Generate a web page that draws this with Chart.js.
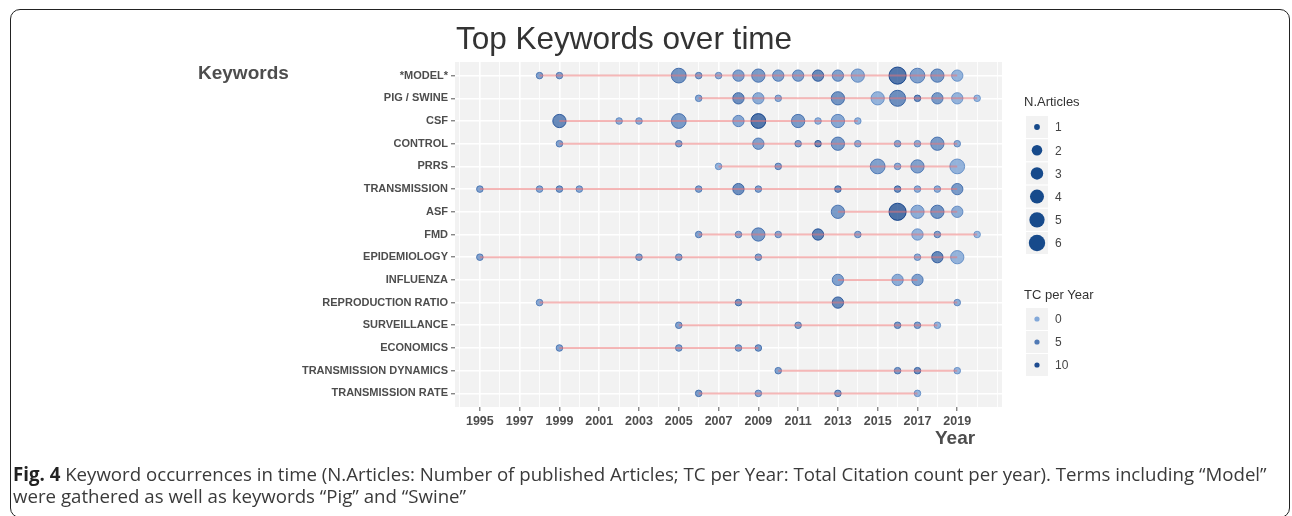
<!DOCTYPE html>
<html>
<head>
<meta charset="utf-8">
<script src="https://cdn.jsdelivr.net/npm/chart.js@4.4.0/dist/chart.umd.min.js"></script>
<style>
html,body{margin:0;padding:0;background:#fff;}
body{width:1292px;height:516px;position:relative;overflow:hidden;}
#frame{position:absolute;left:10px;top:9px;width:1280px;height:509px;border:1.5px solid #222;border-radius:10px;box-sizing:border-box;}
#wrap{position:absolute;left:0;top:0;width:1292px;height:516px;}
.cap{position:absolute;left:13px;font-family:"Open Sans",sans-serif;font-size:16px;line-height:22px;color:#3a3a3a;white-space:nowrap;}
.cap b{color:#222;}
</style>
</head>
<body>
<div id="frame"></div>
<div id="wrap"><canvas id="chart" width="1292" height="516"></canvas></div>
<div class="cap" id="cap1" style="top:463px;"><b>Fig. 4</b> Keyword occurrences in time (N.Articles: Number of published Articles; TC per Year: Total Citation count per year). Terms including “Model”</div>
<div class="cap" id="cap2" style="top:485px;">were gathered as well as keywords “Pig” and “Swine”</div>
<script>
var chartTitle = "Top Keywords over time";
var keywords = ["*MODEL*","PIG / SWINE","CSF","CONTROL","PRRS","TRANSMISSION","ASF","FMD",
                "EPIDEMIOLOGY","INFLUENZA","REPRODUCTION RATIO","SURVEILLANCE","ECONOMICS",
                "TRANSMISSION DYNAMICS","TRANSMISSION RATE"];
// publication years per keyword
var years = [
 [1998,1999,2005,2006,2007,2008,2009,2010,2011,2012,2013,2014,2016,2017,2018,2019],
 [2006,2008,2009,2010,2013,2015,2016,2017,2018,2019,2020],
 [1999,2002,2003,2005,2008,2009,2011,2012,2013,2014],
 [1999,2005,2009,2011,2012,2013,2014,2016,2017,2018,2019],
 [2007,2010,2015,2016,2017,2019],
 [1995,1998,1999,2000,2006,2008,2009,2013,2016,2017,2018,2019],
 [2013,2016,2017,2018,2019],
 [2006,2008,2009,2010,2012,2014,2017,2018,2020],
 [1995,2003,2005,2009,2017,2018,2019],
 [2013,2016,2017],
 [1998,2008,2013,2019],
 [2005,2011,2016,2017,2018],
 [1999,2005,2008,2009],
 [2010,2016,2017,2019],
 [2006,2009,2013,2017]
];
// N.Articles per point
var nArticles = [
 [1,1,4,1,1,2,3,2,2,2,2,3,6,4,3,2],
 [1,2,2,1,3,3,5,1,2,2,1],
 [3,1,1,4,2,4,3,1,3,1],
 [1,1,2,1,1,3,1,1,1,3,1],
 [1,1,4,1,3,4],
 [1,1,1,1,1,2,1,1,1,1,1,2],
 [3,6,3,3,2],
 [1,1,3,1,2,1,2,1,1],
 [1,1,1,1,1,2,3],
 [2,2,2],
 [1,1,2,1],
 [1,1,1,1,1],
 [1,1,1,1],
 [1,1,1,1],
 [1,1,1,1]
];
// TC per Year per point
var tcPerYear = [
 [4,4,6,4,2,4,5,4,4,8,4,2,11,4,5,1],
 [3,7,2,2,6,1,7,7,5,1,0],
 [8,2,2,5,3,11,5,1,3,1],
 [4,4,4,4,8,5,2,3,2,5,2],
 [1,4,4,2,4,1],
 [4,3,5,3,4,7,4,7,7,2,2,5],
 [5,12,2,6,2],
 [4,3,5,3,9,3,1,4,0],
 [4,4,4,4,2,8,1],
 [4,2,4],
 [3,6,8,2],
 [4,4,5,4,1],
 [4,4,4,5],
 [4,5,7,1],
 [5,3,5,1]
];
var xTickLabels = [1995,1997,1999,2001,2003,2005,2007,2009,2011,2013,2015,2017,2019];
var gridYears = [1994,1995,1996,1997,1998,1999,2000,2001,2002,2003,2004,2005,2006,2007,2008,
                 2009,2010,2011,2012,2013,2014,2015,2016,2017,2018,2019,2020,2021];
var sizeLegend = [1,2,3,4,5,6];
var tcLegend = [0,5,10];

var FONT = '"Liberation Sans", Arial, sans-serif';

function radius(n){
	var size = 1 + 5*Math.sqrt((n-1)/5);
	return 3.3 + 1.06*(size-1);
}
function tcColor(tc, a){
	var t = Math.min(tc/13,1);
	var lo=[118,160,214], hi=[4,54,130];
	var c = lo.map(function(v,i){ return Math.round(v+(hi[i]-v)*t); });
	return 'rgba('+c[0]+','+c[1]+','+c[2]+','+a+')';
}

var datasets=[];
for(var i=0;i<keywords.length;i++){
	var yr=years[i];
	datasets.push({
		type:'line',
		data:[{x:yr[0],y:i},{x:yr[yr.length-1],y:i}],
		borderColor:'rgba(236,112,112,0.5)',
		borderWidth:2,
		pointRadius:0,
		order:0
	});
	var pts=[], bg=[], bd=[];
	for(var j=0;j<yr.length;j++){
		pts.push({x:yr[j], y:i, r:radius(nArticles[i][j])});
		bg.push(tcColor(tcPerYear[i][j],0.72));
		bd.push(tcColor(tcPerYear[i][j]+2,0.85));
	}
	datasets.push({
		type:'bubble',
		data:pts,
		backgroundColor:bg,
		borderColor:bd,
		borderWidth:1,
		order:1
	});
}

var panelBg = {
	id:'panelBg',
	beforeDraw:function(chart){
		var a=chart.chartArea, c=chart.ctx;
		c.save();
		c.fillStyle='#f2f2f2';
		c.fillRect(a.left,a.top,a.right-a.left,a.bottom-a.top);
		c.restore();
	}
};

var texts = {
	id:'texts',
	afterDraw:function(chart){
		var c=chart.ctx;
		c.save();
		c.textBaseline='alphabetic';
		c.textAlign='left';
		c.fillStyle='#333';
		c.font='31.5px '+FONT;
		c.fillText(chartTitle,456,49);
		c.fillStyle='#4d4d4d';
		c.font='bold 19px '+FONT;
		c.fillText('Keywords',198,79);
		c.fillText('Year',935,444);

		// N.Articles legend
		c.fillStyle='#333';
		c.font='13px '+FONT;
		c.fillText('N.Articles',1024,106);
		var y0=127, step=23.2;
		for(var k=0;k<sizeLegend.length;k++){
			var cy=y0+k*step;
			c.fillStyle='#f2f2f2';
			c.fillRect(1026,cy-11,22,22);
			c.beginPath();
			c.arc(1037,cy,radius(sizeLegend[k])-0.4,0,Math.PI*2);
			c.fillStyle='#174a8b';
			c.fill();
			c.fillStyle='#444';
			c.font='12px '+FONT;
			c.textBaseline='middle';
			c.fillText(String(sizeLegend[k]),1055,cy+1);
			c.textBaseline='alphabetic';
		}
		// TC per Year legend
		c.fillStyle='#333';
		c.font='13px '+FONT;
		c.fillText('TC per Year',1024,299);
		for(var m=0;m<tcLegend.length;m++){
			var ty=319+m*23;
			c.fillStyle='#f2f2f2';
			c.fillRect(1026,ty-11,22,22);
			c.beginPath();
			c.arc(1037,ty,2.6,0,Math.PI*2);
			c.fillStyle=tcColor(tcLegend[m]*1.25,0.9);
			c.fill();
			c.fillStyle='#444';
			c.font='12px '+FONT;
			c.textBaseline='middle';
			c.fillText(String(tcLegend[m]),1055,ty+1);
			c.textBaseline='alphabetic';
		}
		c.restore();
	}
};

new Chart(document.getElementById('chart'),{
	type:'bubble',
	data:{datasets:datasets},
	options:{
		responsive:false,
		animation:false,
		devicePixelRatio:1,
		events:[],
		layout:{padding:{left:0,top:62,right:290,bottom:79}},
		plugins:{legend:{display:false},tooltip:{enabled:false},title:{display:false}},
		scales:{
			x:{
				type:'linear',
				min:1993.75,
				max:2021.25,
				afterBuildTicks:function(s){ s.ticks=gridYears.map(function(v){return {value:v};}); },
				afterFit:function(s){ s.height=30; },
				ticks:{
					autoSkip:false,maxRotation:0,padding:3,color:'#4d4d4d',
					font:{family:FONT,size:12.5,weight:'bold'},
					callback:function(v){ return xTickLabels.indexOf(v)>=0 ? String(v) : ''; }
				},
				grid:{
					color:'#ffffff',
					lineWidth:function(ctx){ return (ctx.tick && xTickLabels.indexOf(ctx.tick.value)>=0) ? 1.6 : 0.8; },
					tickLength:4,
					tickColor:function(ctx){ return (ctx.tick && xTickLabels.indexOf(ctx.tick.value)>=0) ? '#555' : 'rgba(0,0,0,0)'; },
					tickWidth:1
				},
				border:{display:false}
			},
			y:{
				type:'linear',
				min:-0.6,
				max:14.6,
				reverse:true,
				afterBuildTicks:function(s){ s.ticks=keywords.map(function(k,i){return {value:i};}); },
				afterFit:function(s){ s.width=455; },
				ticks:{
					autoSkip:false,padding:3,color:'#4d4d4d',
					font:{family:FONT,size:11,weight:'bold'},
					callback:function(v){ return keywords[v]; }
				},
				grid:{color:'#ffffff',lineWidth:1.6,tickLength:4,tickColor:'#555',tickWidth:1},
				border:{display:false}
			}
		}
	},
	plugins:[panelBg,texts]
});

// fit caption line to the frame width
(function(){
	var c1=document.getElementById('cap1'), c2=document.getElementById('cap2');
	var w=c1.getBoundingClientRect().width;
	var fs=16*1254/w;
	c1.style.fontSize=fs+'px';
	c2.style.fontSize=fs+'px';
})();
</script>
</body>
</html>
